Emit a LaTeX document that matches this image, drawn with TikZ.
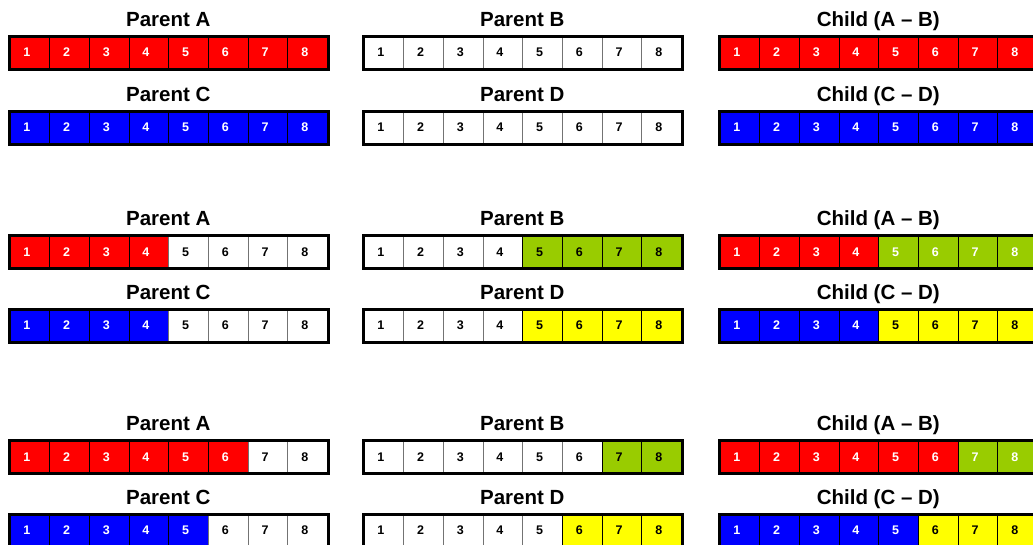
\documentclass[tikz,border=0pt]{standalone}
\usepackage{fontspec}
\setmainfont{Liberation Sans}
\usepackage{xcolor}
\usepackage{tikz}
\usetikzlibrary{positioning}

\definecolor{genered}{HTML}{FF0000}
\definecolor{geneblue}{HTML}{0000FF}
\definecolor{genegreen}{HTML}{99CC00}
\definecolor{geneyellow}{HTML}{FFFF00}

\tikzset{
  gene/.style={line width=1pt, minimum width=39.7pt, minimum height=32pt,
    inner sep=0pt, anchor=north west},
  genenum/.style={xshift=-3pt, font=\bfseries\fontsize{12.5}{14}\selectfont},
  chromo/.style={draw=black, line width=3pt},
  title/.style={anchor=base, font=\bfseries\fontsize{20.5}{24}\selectfont},
}

\begin{document}
\begin{tikzpicture}[x=1pt, y=1pt]
            \useasboundingbox (0,0) rectangle (1033,-544);
            \def\blank{white}

            % name / left x / top y / split / left fill / left text / right fill / right text / title
            \foreach \r/\x/\y/\k/\ca/\ta/\cb/\tb/\lab in {
                pa1/9.5/36/8/genered/white/white/black/Parent A,
                pc1/9.5/111/8/geneblue/white/white/black/Parent C,
                pb1/363.5/36/0/white/black/white/black/Parent B,
                pd1/363.5/111/0/white/black/white/black/Parent D,
                cab1/719.5/36/8/genered/white/white/black/Child (A – B),
                ccd1/719.5/111/8/geneblue/white/white/black/Child (C – D),
                pa2/9.5/235.5/4/genered/white/white/black/Parent A,
                pc2/9.5/309/4/geneblue/white/white/black/Parent C,
                pb2/363.5/235.5/4/white/black/genegreen/black/Parent B,
                pd2/363.5/309/4/white/black/geneyellow/black/Parent D,
                cab2/719.5/235.5/4/genered/white/genegreen/white/Child (A – B),
                ccd2/719.5/309/4/geneblue/white/geneyellow/black/Child (C – D),
                pa3/9.5/440.5/6/genered/white/white/black/Parent A,
                pc3/9.5/514/5/geneblue/white/white/black/Parent C,
                pb3/363.5/440.5/6/white/black/genegreen/black/Parent B,
                pd3/363.5/514/5/white/black/geneyellow/black/Parent D,
                cab3/719.5/440.5/6/genered/white/genegreen/white/Child (A – B),
                ccd3/719.5/514/5/geneblue/white/geneyellow/black/Child (C – D)}
            {
                \foreach \i in {1,...,8} {
                    \ifnum\i>\k \edef\cf{\cb}\edef\ct{\tb}\else \edef\cf{\ca}\edef\ct{\ta}\fi
                    \ifx\cf\blank \def\cd{black!55}\else \def\cd{black}\fi
                    \node[gene, draw=\cd, fill=\cf,
                          label={[genenum, text=\ct]center:\i}] (\r-\i) at ({\x+39.7*(\i-1)}, -\y) {};
                }
                \draw[chromo] (\r-1.north west) rectangle (\r-8.south east);
                \node[title] (\r-t) at (\x+158.8, -\y+10) {\lab};
            }
         \end{tikzpicture}
\end{document}
